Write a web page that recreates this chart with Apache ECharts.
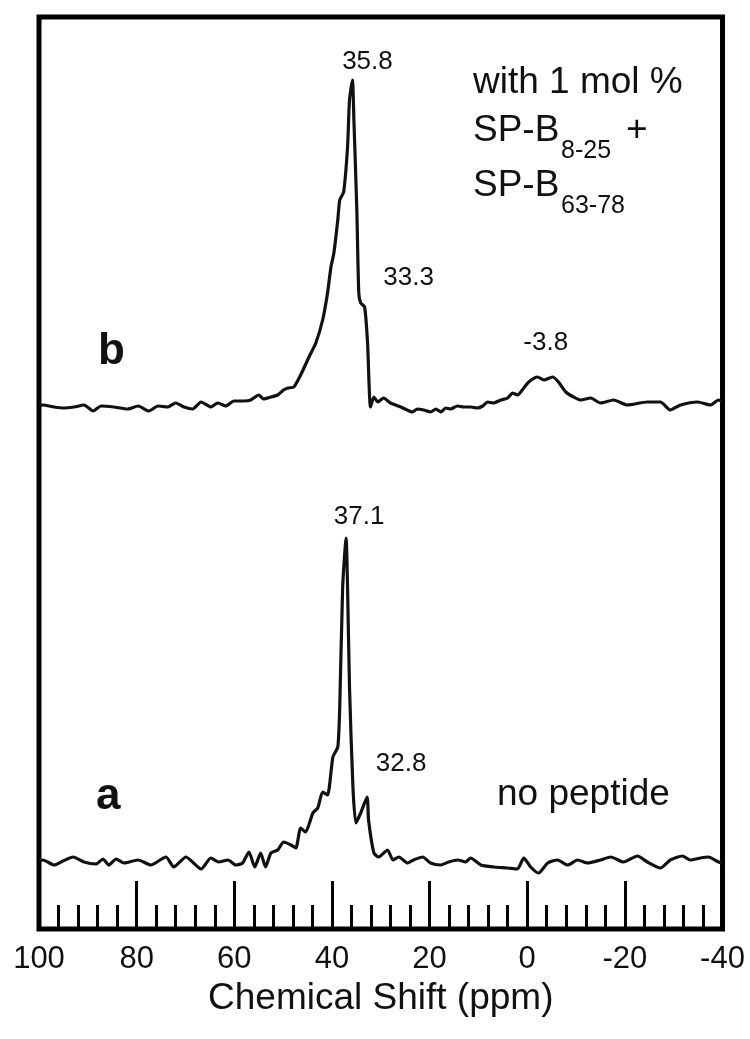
<!DOCTYPE html>
<html>
<head>
<meta charset="utf-8">
<script src="https://cdn.jsdelivr.net/npm/echarts@6/dist/echarts.min.js"></script>
<style>
html,body{margin:0;padding:0;background:#fff;}
#chart{width:750px;height:1039px;}
</style>
</head>
<body>
<div id="chart"></div>
<script>
// Chemical shift (ppm) and intensity (arbitrary units, trace b drawn above trace a)
const ppmB = [100, 99.2, 96.9, 94.9, 92.8, 90.8, 88.9, 87.3, 84.7, 81.8, 79.7, 77.5, 75.6, 73.6, 72.0, 70.3, 68.5, 66.8, 64.8, 63.4, 61.7, 60.1, 58.0, 56.6, 55.0, 54.0, 52.5, 51.1, 49.9, 49.0, 47.8, 46.4, 44.7, 43.3, 41.9, 40.9, 40.2, 39.6, 38.8, 38.4, 37.6, 36.8, 36.4, 35.8, 35.5, 34.9, 34.5, 34.1, 33.3, 32.7, 32.1, 31.4, 30.6, 29.4, 28.0, 25.9, 23.5, 22.5, 21.2, 19.8, 18.7, 17.7, 16.7, 15.7, 14.3, 13.0, 11.6, 10.2, 9.1, 8.1, 6.9, 5.4, 4.0, 3.0, 2.0, 0.7, -0.3, -2.1, -3.4, -5.2, -6.4, -7.9, -9.5, -10.9, -13.0, -15.0, -17.7, -20.5, -24.6, -27.3, -29.3, -31.4, -34.9, -37.5, -39.2, -40];
const intensityB = [521, 522, 520, 519, 520, 522, 516, 521, 520, 518, 521, 516, 521, 520, 524, 520, 518, 525, 520, 524, 521, 526, 526, 527, 532, 528, 530, 532, 537, 539, 540, 552, 570, 584, 607, 634, 660, 674, 707, 727, 735, 780, 827, 847, 807, 717, 634, 624, 620, 584, 520, 530, 525, 529, 524, 520, 515, 518, 517, 515, 518, 515, 519, 518, 521, 520, 520, 519, 521, 525, 524, 527, 529, 534, 532, 539, 545, 550, 547, 550, 545, 535, 530, 527, 529, 524, 527, 522, 525, 525, 517, 522, 525, 522, 527, 525];

const ppmA = [100, 99.2, 96.9, 95.1, 93.0, 90.8, 88.3, 86.9, 85.7, 84.2, 82.6, 79.7, 77.1, 74.0, 72.4, 69.9, 66.8, 64.8, 63.2, 61.3, 59.7, 58.3, 57.0, 55.8, 54.6, 53.6, 52.5, 51.1, 49.9, 48.4, 47.4, 46.4, 45.4, 43.9, 42.9, 41.9, 40.9, 39.8, 38.8, 38.4, 37.8, 37.1, 36.8, 36.4, 35.7, 35.1, 34.1, 32.8, 32.5, 31.4, 30.4, 28.6, 27.5, 26.3, 24.5, 23.3, 21.4, 19.8, 17.7, 16.1, 14.2, 12.6, 11.6, 9.5, 6.9, 4.0, 2.0, 0.7, -0.7, -2.3, -4.2, -6.2, -8.3, -10.3, -12.4, -15.0, -17.1, -19.7, -22.6, -24.6, -27.3, -29.3, -31.8, -33.4, -35.5, -37.1, -39.2, -40];
const intensityA = [66, 67, 62, 66, 70, 65, 63, 68, 62, 68, 64, 67, 62, 70, 60, 70, 58, 69, 65, 67, 62, 64, 75, 60, 74, 60, 74, 77, 85, 82, 79, 99, 95, 114, 119, 135, 132, 170, 180, 220, 340, 389, 340, 240, 140, 104, 114, 130, 107, 74, 70, 77, 67, 70, 64, 67, 70, 64, 62, 65, 67, 65, 69, 62, 60, 59, 58, 69, 60, 54, 64, 67, 62, 67, 64, 67, 70, 65, 71, 65, 59, 67, 71, 67, 69, 70, 65, 64];

// Peak annotations: [ppm, intensity]
const peaksB = [[35.8, 847], [33.3, 620], [-3.8, 550]];
const peaksA = [[37.1, 389], [32.8, 130]];

const xTicks = { min: -40, max: 100, interval: 20 };
const xTitle = 'Chemical Shift (ppm)';

const FONT = '"Liberation Sans", Arial, Helvetica, sans-serif';
const INK = '#111';

function zip(xs, ys) { return xs.map((x, i) => [x, ys[i]]); }

const chart = echarts.init(document.getElementById('chart'), null, { renderer: 'canvas' });

function peakMark(peaks, offsets) {
  return {
    symbol: 'circle',
    symbolSize: 0,
    silent: true,
    label: { show: true, position: 'inside', fontFamily: FONT, fontSize: 26, color: INK },
    data: peaks.map((p, i) => ({
      coord: p,
      value: p[0],
      label: { formatter: String(p[0]), offset: offsets[i] }
    }))
  };
}

const option = {
  animation: false,
  backgroundColor: '#fff',
  grid: {
    left: 39, right: 27.5, top: 17, bottom: 110,
    show: true, borderColor: '#000', borderWidth: 5, backgroundColor: 'transparent'
  },
  xAxis: {
    type: 'value',
    inverse: true,
    min: xTicks.min, max: xTicks.max, interval: xTicks.interval,
    axisLine: { show: false },
    axisTick: { show: true, inside: true, length: 46, lineStyle: { color: '#000', width: 3 } },
    minorTick: { show: true, splitNumber: 5, length: 22, lineStyle: { color: '#000', width: 3 } },
    splitLine: { show: false },
    axisLabel: { fontFamily: FONT, fontSize: 31, color: INK, margin: 15 },
    name: xTitle,
    nameLocation: 'middle',
    nameGap: 47,
    nameTextStyle: { fontFamily: FONT, fontSize: 37, color: INK }
  },
  yAxis: {
    type: 'value', min: -2, max: 910, show: false
  },
  series: [
    {
      name: 'b', type: 'line', data: zip(ppmB, intensityB),
      showSymbol: false, smooth: 0.2,
      lineStyle: { color: INK, width: 3.2 },
      markPoint: peakMark(peaksB, [[15, -18], [44, -29], [0, -34]])
    },
    {
      name: 'a', type: 'line', data: zip(ppmA, intensityA),
      showSymbol: false, smooth: 0.2,
      lineStyle: { color: INK, width: 3.2 },
      markPoint: peakMark(peaksA, [[13, -21], [34, -33]])
    }
  ],
  graphic: [
    { type: 'text', left: 98, top: 330, style: { text: 'b', font: 'bold 44px ' + FONT, fill: INK } },
    { type: 'text', left: 96, top: 775, style: { text: 'a', font: 'bold 44px ' + FONT, fill: INK } },
    { type: 'text', left: 473, top: 64, style: { text: 'with 1 mol %', font: '37px ' + FONT, fill: INK } },
    { type: 'text', left: 473, top: 112, style: { text: 'SP-B', font: '37px ' + FONT, fill: INK } },
    { type: 'text', left: 561, top: 139, style: { text: '8-25', font: '25px ' + FONT, fill: INK } },
    { type: 'text', left: 626, top: 112, style: { text: '+', font: '37px ' + FONT, fill: INK } },
    { type: 'text', left: 473, top: 167, style: { text: 'SP-B', font: '37px ' + FONT, fill: INK } },
    { type: 'text', left: 561, top: 194, style: { text: '63-78', font: '25px ' + FONT, fill: INK } },
    { type: 'text', left: 497, top: 776, style: { text: 'no peptide', font: '37px ' + FONT, fill: INK } }
  ]
};

chart.setOption(option);
</script>
</body>
</html>
